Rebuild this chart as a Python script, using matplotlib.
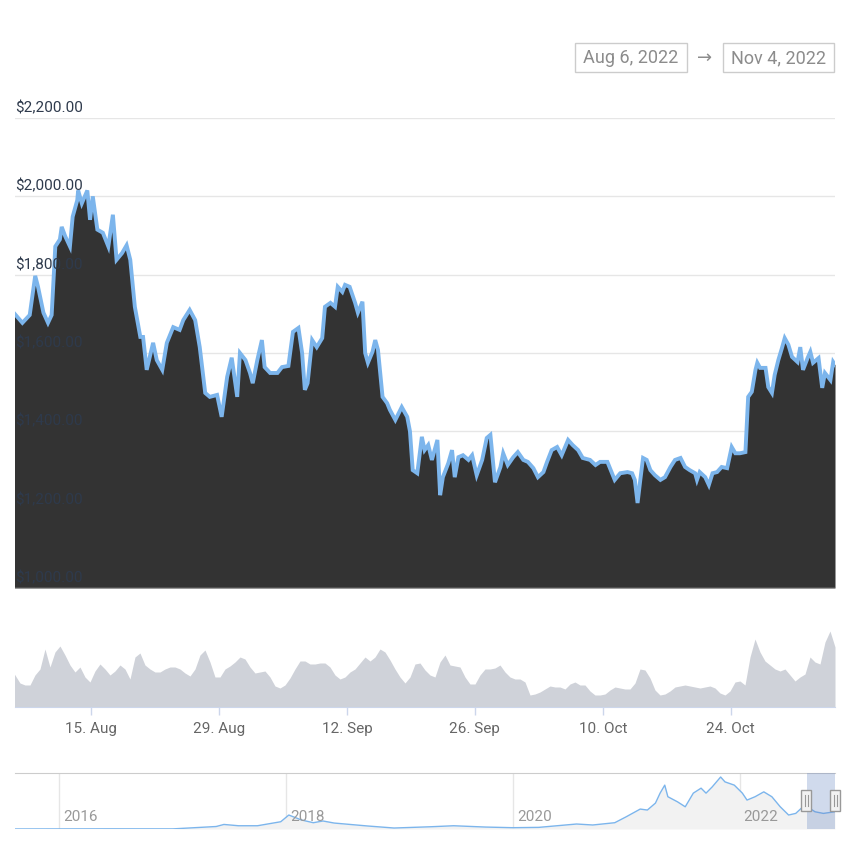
import numpy as np
import pandas as pd
import matplotlib
matplotlib.use("Agg")
import matplotlib.pyplot as plt
from matplotlib.patches import Rectangle

plt.rcParams['font.family'] = ['Roboto', 'DejaVu Sans']

# ---- data ----
start = pd.Timestamp("2022-08-06")

# price: days after Aug 6 2022, USD
price_days = [0.1, 1.5, 2.3, 2.9, 3.2, 3.8, 4.3, 4.7, 5.1, 5.6, 5.8, 6.2, 6.7, 7.0, 7.5, 7.6,
              8.0, 8.6, 8.9, 9.2, 9.7, 10.3, 10.9, 11.4, 11.8, 12.4, 12.9, 13.3, 13.8, 14.4,
              14.7, 15.1, 15.8, 16.2, 16.8, 17.3, 18.0, 18.7, 19.1, 19.8, 20.4, 20.9, 21.5,
              22.0, 22.8, 23.3, 23.9, 24.4, 25.0, 25.3, 25.9, 26.4, 26.7, 27.2, 27.7, 28.0,
              28.6, 29.4, 29.9, 30.6, 31.1, 31.7, 32.1, 32.4, 32.7, 33.2, 33.7, 34.3, 34.6,
              35.2, 35.7, 36.0, 36.5, 36.8, 37.3, 37.9, 38.2, 38.7, 39.0, 39.3, 39.8, 40.1,
              40.4, 40.9, 41.4, 41.7, 42.3, 43.0, 43.6, 43.9, 44.2, 44.7, 45.2, 45.5, 45.9,
              46.3, 46.9, 47.2, 47.5, 48.1, 48.5, 48.8, 49.2, 49.7, 50.3, 50.7, 51.2, 51.8,
              52.3, 52.7, 53.2, 53.8, 54.1, 54.6, 55.2, 55.7, 56.3, 56.8, 57.4, 57.9, 58.5,
              58.9, 59.4, 60.0, 60.5, 61.2, 61.7, 62.3, 62.8, 63.6, 64.2, 64.7, 65.5, 66.0,
              66.3, 66.9, 67.7, 68.2, 68.5, 68.8, 69.1, 69.4, 69.8, 70.2, 70.7, 71.3, 71.8,
              72.4, 72.9, 73.5, 74.0, 74.5, 75.1, 75.3, 75.6, 76.2, 76.6, 77.0, 77.5, 78.0,
              78.6, 79.1, 79.5, 80.0, 80.6, 80.9, 81.3, 81.7, 81.9, 82.2, 82.8, 83.1, 83.5,
              83.8, 84.2, 84.6, 84.9, 85.3, 85.7, 86.3, 86.6, 86.9, 87.4, 87.7, 88.0, 88.6,
              89.0, 89.3, 89.9, 90.2, 90.4]
price_values = [1715, 1677, 1697, 1797, 1770, 1703, 1677, 1697, 1872, 1890, 1922, 1897, 1872, 1948, 1990, 2015,
                1982, 2015, 1940, 2000, 1915, 1907, 1872, 1953, 1838, 1855, 1875, 1838, 1718, 1641,
                1641, 1557, 1626, 1582, 1557, 1626, 1666, 1659, 1684, 1710, 1684, 1615, 1498,
                1488, 1493, 1437, 1539, 1588, 1488, 1600, 1582, 1549, 1523, 1582, 1633, 1564,
                1549, 1549, 1564, 1567, 1654, 1664, 1600, 1506, 1523, 1633, 1615, 1638, 1718,
                1728, 1718, 1769, 1756, 1774, 1769, 1728, 1703, 1731, 1600, 1575, 1603, 1633,
                1608, 1488, 1472, 1455, 1429, 1462, 1437, 1400, 1301, 1293, 1386, 1352, 1365,
                1327, 1378, 1237, 1283, 1319, 1352, 1283, 1334, 1339, 1327, 1339, 1288, 1327,
                1383, 1391, 1270, 1309, 1344, 1314, 1334, 1347, 1327, 1322, 1306, 1283, 1296,
                1322, 1352, 1360, 1339, 1378, 1365, 1352, 1332, 1327, 1314, 1322, 1322, 1293,
                1276, 1293, 1296, 1293, 1276, 1217, 1276, 1332, 1327, 1301, 1288, 1276, 1283,
                1309, 1327, 1332, 1309, 1301, 1293, 1276, 1296, 1283, 1263, 1293, 1296, 1309,
                1306, 1360, 1344, 1344, 1347, 1488, 1501, 1557, 1575, 1562, 1562, 1513, 1498,
                1544, 1582, 1613, 1638, 1621, 1590, 1577, 1615, 1557, 1587, 1603, 1575, 1587,
                1511, 1549, 1531, 1577, 1570]

# volume (relative column height), evenly spaced over the visible range
volume = [40, 32, 24, 22, 22, 32, 38, 58, 40, 55, 61, 52, 42, 35, 40, 30, 25, 36, 43, 38,
          32, 36, 42, 38, 28, 50, 54, 42, 38, 35, 35, 38, 40, 40, 38, 34, 31, 38, 52, 57,
          45, 30, 30, 38, 41, 45, 50, 48, 40, 34, 35, 36, 30, 21, 19, 22, 29, 38, 46, 46,
          43, 43, 44, 44, 40, 32, 28, 30, 35, 38, 44, 50, 46, 50, 58, 55, 47, 38, 30, 24,
          30, 43, 44, 37, 32, 30, 45, 52, 42, 41, 40, 30, 23, 23, 32, 38, 38, 39, 42, 35,
          30, 28, 28, 25, 12, 13, 15, 18, 21, 20, 20, 18, 23, 25, 22, 22, 16, 12, 12, 13,
          17, 20, 19, 18, 18, 24, 38, 37, 29, 17, 12, 13, 16, 20, 21, 22, 21, 20, 19, 20,
          21, 19, 14, 12, 16, 25, 26, 22, 50, 68, 55, 46, 42, 38, 36, 38, 32, 26, 30, 33,
          50, 45, 43, 65, 76, 60]

y_ticks = [1000, 1200, 1400, 1600, 1800, 2000, 2200]
y_labels = ["$1,000.00", "$1,200.00", "$1,400.00", "$1,600.00", "$1,800.00", "$2,000.00", "$2,200.00"]
x_ticks = ["2022-08-15", "2022-08-29", "2022-09-12", "2022-09-26", "2022-10-10", "2022-10-24"]
x_labels = ["15. Aug", "29. Aug", "12. Sep", "26. Sep", "10. Oct", "24. Oct"]

# navigator: full history
nav_dates = ["2015-08-10", "2016-06-15", "2017-01-01", "2017-05-21", "2017-06-15", "2017-08-01",
             "2017-10-01", "2017-12-15", "2018-01-10", "2018-02-20", "2018-03-30", "2018-04-30",
             "2018-06-05", "2018-09-20", "2018-12-15", "2019-04-15", "2019-06-25", "2019-10-05",
             "2020-01-01", "2020-03-25", "2020-07-25", "2020-09-15", "2020-11-25", "2021-01-01",
             "2021-02-15", "2021-03-10", "2021-04-05", "2021-04-20", "2021-05-05", "2021-05-15",
             "2021-06-15", "2021-07-10", "2021-08-05", "2021-08-30", "2021-09-15", "2021-10-05",
             "2021-11-01", "2021-11-15", "2021-12-15", "2022-01-10", "2022-01-25", "2022-02-20",
             "2022-03-20", "2022-04-15", "2022-05-12", "2022-06-08", "2022-07-01", "2022-07-30",
             "2022-09-01", "2022-09-28", "2022-11-04"]
nav_values = [3, 15, 10, 230, 420, 300, 300, 670, 1290, 830, 580, 740,
              550, 280, 90, 210, 300, 180, 120, 150, 460, 370, 580, 1130,
              1840, 1750, 2390, 3310, 4050, 2980, 2510, 2050, 3310, 3770, 3310, 3890,
              4800, 4350, 4050, 3310, 2670, 2980, 3430, 2980, 2050, 1290, 1440, 2210,
              1590, 1440, 1590]
nav_years = ["2016", "2018", "2020", "2022"]

# ---- layout helpers ----
W = H = 850
def box(l, t, r, b):
    return [l / W, 1 - b / H, (r - l) / W, (b - t) / H]

price_dates = start + pd.to_timedelta(price_days, unit="D")
vol_dates = pd.date_range(start + pd.Timedelta(days=0.14), start + pd.Timedelta(days=90.4),
                          periods=len(volume))
x_lo = start + pd.Timedelta(days=0.69)
x_hi = start + pd.Timedelta(days=90.4)

fig = plt.figure(figsize=(8.5, 8.5), dpi=100)

# main price chart
ax = fig.add_axes(box(15, 118, 835, 588))
for v in y_ticks:
    ax.axhline(v, color='#e6e6e6', lw=1, zorder=1)
ax.fill_between(price_dates, 1000, price_values, color='#333333', lw=0, zorder=2)
ax.plot(price_dates, price_values, color='#7cb5ec', lw=2.8, zorder=3, solid_joinstyle='miter')
ax.axhline(1000, color='#cccccc', lw=1, zorder=4)
for v, lab in zip(y_ticks, y_labels):
    ax.annotate(lab, xy=(0, v), xycoords=('axes fraction', 'data'), xytext=(0, 2),
                textcoords='offset points', ha='left', va='bottom', fontsize=11,
                color='#2e3a4c', zorder=5)
ax.set_xlim(x_lo, x_hi)
ax.set_ylim(1000, 2200)
ax.axis('off')

# volume
vax = fig.add_axes(box(15, 615, 835, 707))
vax.fill_between(vol_dates, 0, volume, color='#cfd2d9', lw=0)
vax.set_xlim(x_lo, x_hi)
vax.set_ylim(0, 92)
for s in ['top', 'left', 'right']:
    vax.spines[s].set_visible(False)
vax.spines['bottom'].set_color('#ccd6eb')
vax.set_yticks([])
vax.set_xticks(pd.to_datetime(x_ticks))
vax.set_xticklabels(x_labels)
vax.tick_params(axis='x', length=6, width=1, color='#ccd6eb', labelcolor='#666666',
                labelsize=11, pad=5)

# navigator
nax = fig.add_axes(box(15, 773, 835, 829))
nd = pd.to_datetime(nav_dates)
nax.fill_between(nd, 0, nav_values, color='#f2f2f2', lw=0, zorder=2)
nax.plot(nd, nav_values, color='#7cb5ec', lw=1, zorder=3)
nav_lo = pd.Timestamp("2015-08-12")
nax.set_xlim(nav_lo, x_hi)
nax.set_ylim(0, 5170)
for yr in nav_years:
    d = pd.Timestamp(yr + "-01-01")
    nax.axvline(d, color='#e6e6e6', lw=1, zorder=1)
    nax.annotate(yr, xy=(d, 0.21), xycoords=('data', 'axes fraction'), xytext=(3, 0),
                 textcoords='offset points', ha='left', va='center', fontsize=11,
                 color='#999999', zorder=4)
nax.axvspan(x_lo, x_hi, color=(102 / 255, 133 / 255, 194 / 255, 0.3), lw=0, zorder=5)
for s in ['left', 'right', 'bottom']:
    nax.spines[s].set_visible(False)
nax.spines['top'].set_color('#cccccc')
nax.set_xticks([])
nax.set_yticks([])

# navigator handles (figure pixel coords)
for hx in [806, 835]:
    fig.add_artist(Rectangle(((hx - 5) / W, 1 - 811 / H), 10 / W, 21 / H,
                             transform=fig.transFigure, facecolor='#f2f2f2',
                             edgecolor='#999999', lw=1, zorder=10))
    for gx in [hx - 1.5, hx + 1.5]:
        fig.add_artist(plt.Line2D([gx / W, gx / W], [1 - 806 / H, 1 - 795 / H],
                                  transform=fig.transFigure, color='#999999', lw=0.8, zorder=11))

# range input boxes
for (l, r, txt) in [(575, 687, "Aug 6, 2022"), (723, 834, "Nov 4, 2022")]:
    fig.add_artist(Rectangle((l / W, 1 - 72 / H), (r - l) / W, 29 / H,
                             transform=fig.transFigure, facecolor='white',
                             edgecolor='#cccccc', lw=1))
    fig.text((l + r) / 2 / W, 1 - 58 / H, txt, ha='center', va='center',
             fontsize=13, color='#8c8c8c')
fig.text(705 / W, 1 - 58 / H, "\u2192", ha='center', va='center', fontsize=13,
         color='#8c8c8c', family=['Roboto', 'DejaVu Sans'])

fig.savefig("out.png", dpi=100)
